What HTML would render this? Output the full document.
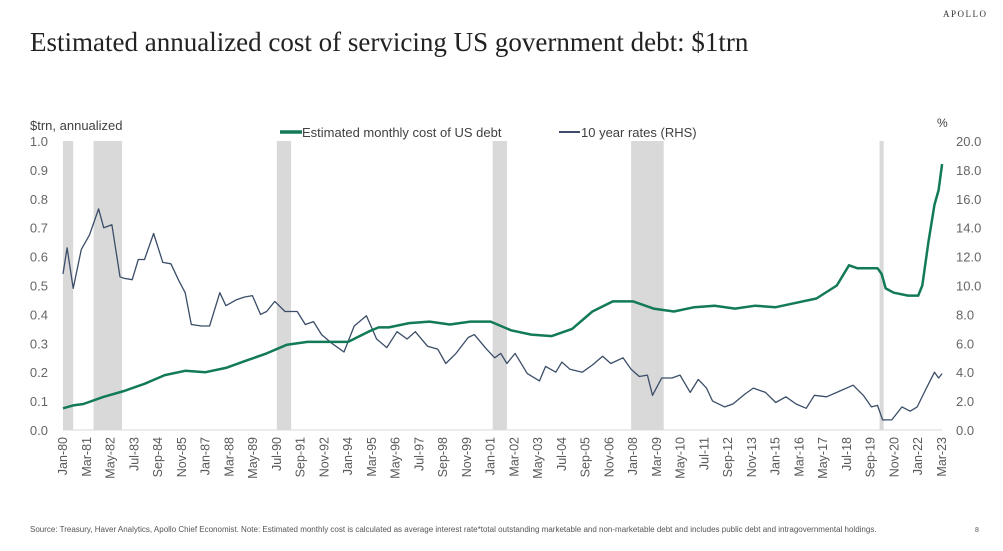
<!DOCTYPE html>
<html><head><meta charset="utf-8"><style>
body{margin:0;background:#fff;}
svg{display:block;font-family:"Liberation Sans",sans-serif;}
</style></head><body>
<svg id="chart" width="1003" height="551" viewBox="0 0 1003 551">
<text x="943" y="17" font-family="Liberation Serif,serif" font-size="9" letter-spacing="1.5" fill="#333">APOLLO</text>
<text x="30" y="51" font-family="Liberation Serif,serif" font-size="27" fill="#222">Estimated annualized cost of servicing US government debt: $1trn</text>
<text x="30" y="130" font-size="13" fill="#404040">$trn, annualized</text>
<text x="937" y="127" font-size="12" fill="#404040">%</text>
<g>
<line x1="280" y1="132" x2="302" y2="132" stroke="#127a57" stroke-width="3.5"/>
<text x="302" y="137" font-size="13" fill="#404040">Estimated monthly cost of US debt</text>
<line x1="559" y1="132" x2="580" y2="132" stroke="#3b4d68" stroke-width="2"/>
<text x="581" y="137" font-size="13" fill="#404040">10 year rates (RHS)</text>
</g>
<g id="rec"></g><g id="axes"></g><g id="lines"></g>
<text x="30" y="532" font-size="8" fill="#555">Source: Treasury, Haver Analytics, Apollo Chief Economist. Note: Estimated monthly cost is calculated as average interest rate*total outstanding marketable and non-marketable debt and includes public debt and intragovernmental holdings.</text>
<text x="975" y="532" font-size="7" fill="#555">8</text>
</svg>
<script>
const recessions=[[1980.0,1980.5],[1981.5,1982.9],[1990.5,1991.2],[2001.1,2001.8],[2007.9,2009.5],[2020.1,2020.3]];
const leftTicks=[0,0.1,0.2,0.3,0.4,0.5,0.6,0.7,0.8,0.9,1.0];
const rightTicks=[0,2,4,6,8,10,12,14,16,18,20];
const monthNames=["Jan","Feb","Mar","Apr","May","Jun","Jul","Aug","Sep","Oct","Nov","Dec"];
const rateT=[1980.0,1980.2,1980.5,1980.9,1981.3,1981.75,1982.0,1982.4,1982.8,1983.0,1983.4,1983.7,1984.0,1984.45,1984.9,1985.3,1985.7,1986.0,1986.3,1986.8,1987.2,1987.7,1988.0,1988.5,1988.9,1989.3,1989.7,1990.0,1990.4,1990.9,1991.5,1991.9,1992.3,1992.7,1993.2,1993.8,1994.3,1994.9,1995.4,1995.9,1996.4,1996.9,1997.3,1997.9,1998.4,1998.8,1999.3,1999.9,2000.2,2000.8,2001.2,2001.5,2001.8,2002.2,2002.8,2003.4,2003.7,2004.2,2004.5,2004.9,2005.5,2006.0,2006.5,2006.9,2007.5,2007.9,2008.3,2008.7,2008.95,2009.4,2009.9,2010.3,2010.8,2011.2,2011.6,2011.9,2012.5,2012.9,2013.5,2013.9,2014.5,2015.0,2015.5,2016.0,2016.5,2016.9,2017.5,2018.0,2018.8,2019.3,2019.7,2020.0,2020.25,2020.7,2021.2,2021.6,2021.95,2022.4,2022.8,2023.0,2023.17];
const rateV=[10.8,12.6,9.8,12.5,13.5,15.3,14.0,14.2,10.6,10.5,10.4,11.8,11.8,13.6,11.6,11.5,10.3,9.5,7.3,7.2,7.2,9.5,8.6,9.0,9.2,9.3,8.0,8.2,8.9,8.2,8.2,7.3,7.5,6.6,6.0,5.4,7.2,7.9,6.3,5.7,6.8,6.3,6.8,5.8,5.6,4.6,5.3,6.4,6.6,5.6,5.0,5.3,4.6,5.3,3.9,3.4,4.4,4.0,4.7,4.2,4.0,4.5,5.1,4.6,5.0,4.2,3.7,3.8,2.4,3.6,3.6,3.8,2.6,3.5,2.9,2.0,1.6,1.8,2.5,2.9,2.6,1.9,2.3,1.8,1.5,2.4,2.3,2.6,3.1,2.4,1.6,1.7,0.7,0.7,1.6,1.3,1.6,2.9,4.0,3.6,3.9];
const costT=[1980,1980.5,1981,1982,1983,1984,1985,1986,1987,1988,1989,1990,1991,1992,1993,1994,1995,1995.5,1996,1997,1998,1999,2000,2001,2002,2003,2004,2005,2006,2007,2008,2009,2010,2011,2012,2013,2014,2015,2016,2017,2018,2018.6,2019,2020.0,2020.2,2020.4,2020.8,2021.5,2022.0,2022.2,2022.5,2022.8,2023.0,2023.17];
const costV=[0.075,0.085,0.09,0.115,0.135,0.16,0.19,0.205,0.20,0.215,0.24,0.265,0.295,0.305,0.305,0.305,0.34,0.355,0.355,0.37,0.375,0.365,0.375,0.375,0.345,0.33,0.325,0.35,0.41,0.445,0.445,0.42,0.41,0.425,0.43,0.42,0.43,0.425,0.44,0.455,0.5,0.57,0.56,0.56,0.54,0.49,0.475,0.465,0.465,0.5,0.65,0.78,0.83,0.92];
const NS="http://www.w3.org/2000/svg";
const X0=63,X1=942,T0=1980,T1=2023+2/12,YT=141,YB=430;
const xs=t=>X0+(t-T0)/(T1-T0)*(X1-X0);
const yl=v=>YB-v*(YB-YT);
const yr=v=>YB-v/20*(YB-YT);
function mk(tag,attrs,parent){const e=document.createElementNS(NS,tag);for(const k in attrs)e.setAttribute(k,attrs[k]);parent.appendChild(e);return e;}
const rec=document.getElementById('rec'),axes=document.getElementById('axes'),lines=document.getElementById('lines');
recessions.forEach(r=>{
 const e=mk('rect',{x:xs(r[0]),y:YT,width:Math.max(3,xs(r[1])-xs(r[0])),height:YB-YT,fill:'#d9d9d9'},rec);
 
 
});
const base=mk('line',{x1:X0,x2:X1,y1:YB,y2:YB,stroke:'#d9d9d9','stroke-width':1},axes);


leftTicks.forEach(v=>{
 const e=mk('text',{x:48,y:yl(v)+5,'text-anchor':'end','font-size':13,fill:'#666'},axes);
 e.textContent=v.toFixed(1);
 
 
});
rightTicks.forEach(v=>{
 const e=mk('text',{x:956,y:yr(v)+5,'font-size':13,fill:'#666'},axes);
 e.textContent=v.toFixed(1);
 
 
});
for(let m=0;m<=518;m+=14){
 const t=T0+m/12,yy=(1980+Math.floor(m/12))%100;
 const lab=monthNames[m%12]+'-'+String(yy).padStart(2,'0');
 const x=xs(t)+4;
 const e=mk('text',{x:x,y:437,'text-anchor':'end','font-size':12.5,fill:'#595959',transform:`rotate(-90 ${x} 437)`},axes);
 e.textContent=lab;
 
 
}
const pr=rateT.map((t,i)=>`${i?'L':'M'}${xs(t).toFixed(1)},${yr(rateV[i]).toFixed(1)}`).join('');
const lr=mk('path',{d:pr,fill:'none',stroke:'#3b4d68','stroke-width':1.3,'stroke-linejoin':'round'},lines);


const pc=costT.map((t,i)=>`${i?'L':'M'}${xs(t).toFixed(1)},${yl(costV[i]).toFixed(1)}`).join('');
const lc=mk('path',{d:pc,fill:'none',stroke:'#127a57','stroke-width':2.5,'stroke-linejoin':'round'},lines);


</script>
</body></html>
